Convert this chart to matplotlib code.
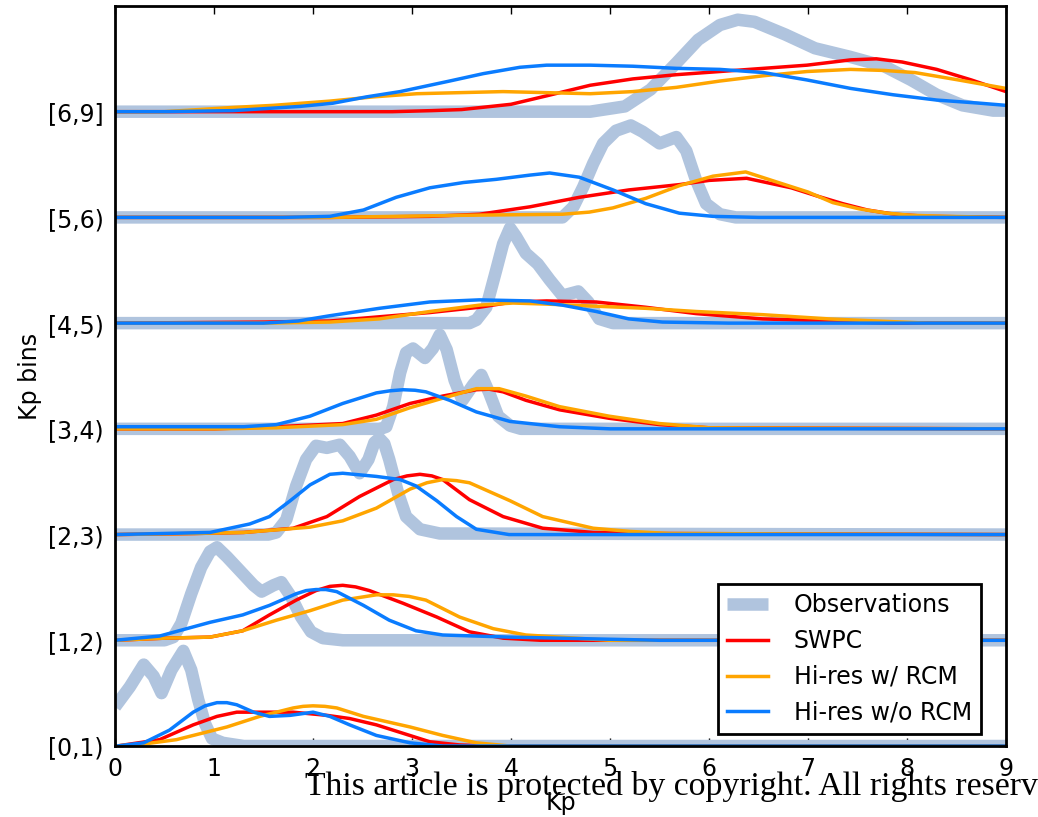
import numpy as np
import matplotlib
matplotlib.use('Agg')
from matplotlib import pyplot as plt

bin_labels = ['[0,1)', '[1,2)', '[2,3)', '[3,4)', '[4,5)', '[5,6)', '[6,9]']

# density curves, one list per Kp bin (x = Kp, h = height above the bin baseline)
obs_x = [
    [0, 0.15, 0.29, 0.39, 0.47, 0.57, 0.69, 0.77, 0.84, 0.91, 0.98, 1.09, 1.3, 9],
    [0, 0.5, 0.59, 0.67, 0.77, 0.87, 0.96, 1.03, 1.13, 1.26, 1.4, 1.48, 1.6, 1.68, 1.78, 1.88, 1.98, 2.1, 2.3, 9],
    [0, 1.55, 1.63, 1.73, 1.83, 1.93, 2.03, 2.14, 2.27, 2.37, 2.47, 2.56, 2.62, 2.67, 2.72, 2.77, 2.86, 2.94, 3.08,
     3.28, 9],
    [0, 2.68, 2.74, 2.81, 2.88, 2.94, 3.01, 3.13, 3.21, 3.28, 3.35, 3.43, 3.51, 3.62, 3.7, 3.78, 3.87, 3.99, 4.1, 9],
    [0, 3.58, 3.65, 3.75, 3.85, 3.92, 3.99, 4.05, 4.15, 4.27, 4.39, 4.52, 4.68, 4.78, 4.89, 5.03, 9],
    [0, 4.52, 4.63, 4.73, 4.83, 4.93, 5.06, 5.21, 5.33, 5.5, 5.67, 5.77, 5.87, 5.97, 6.11, 6.27, 9],
    [0, 4.8, 5.15, 5.41, 5.67, 5.89, 6.11, 6.29, 6.46, 6.77, 7.07, 7.42, 7.77, 8.04, 8.3, 8.56, 8.87, 9],
]
obs_h = [
    [0.37, 0.56, 0.77, 0.66, 0.5, 0.72, 0.9, 0.72, 0.44, 0.21, 0.07, 0.03, 0, 0],
    [0, 0, 0.03, 0.16, 0.44, 0.69, 0.84, 0.88, 0.79, 0.66, 0.52, 0.46, 0.52, 0.55, 0.41, 0.22, 0.08, 0.02, 0, 0],
    [0, 0, 0.02, 0.14, 0.46, 0.71, 0.84, 0.82, 0.85, 0.74, 0.58, 0.71, 0.87, 0.91, 0.86, 0.71, 0.39, 0.17, 0.05,
     0.01, 0],
    [0, 0, 0.02, 0.21, 0.53, 0.72, 0.76, 0.67, 0.76, 0.89, 0.75, 0.46, 0.27, 0.42, 0.51, 0.34, 0.12, 0.03, 0, 0],
    [0, 0, 0.03, 0.15, 0.5, 0.75, 0.9, 0.82, 0.66, 0.56, 0.41, 0.26, 0.3, 0.2, 0.04, 0, 0],
    [0, 0, 0.1, 0.29, 0.51, 0.7, 0.82, 0.87, 0.81, 0.7, 0.76, 0.63, 0.35, 0.13, 0.03, 0, 0],
    [0, 0, 0.05, 0.21, 0.46, 0.68, 0.82, 0.87, 0.85, 0.73, 0.6, 0.52, 0.43, 0.3, 0.16, 0.06, 0.01, 0.01],
]

swpc_x = [
    [0, 0.02, 0.45, 0.79, 1.03, 1.23, 1.46, 1.8, 2.14, 2.37, 2.64, 2.91, 3.18, 3.48, 3.8, 9],
    [0, 0.5, 0.96, 1.29, 1.56, 1.83, 2.03, 2.17, 2.3, 2.43, 2.57, 2.91, 3.25, 3.58, 3.92, 4.3, 9],
    [0, 0.8, 1.3, 1.8, 2.14, 2.47, 2.81, 2.95, 3.08, 3.2, 3.31, 3.58, 3.92, 4.32, 4.83, 5.5, 9],
    [0, 1.0, 1.63, 2.3, 2.64, 2.98, 3.31, 3.65, 3.78, 3.92, 4.15, 4.49, 4.99, 5.5, 6.0, 9],
    [0, 1.5, 2.17, 2.67, 3.18, 3.68, 4.02, 4.36, 4.86, 5.36, 5.87, 6.54, 7.21, 7.8, 9],
    [0, 2.17, 3.18, 3.68, 4.19, 4.69, 5.19, 5.7, 6.0, 6.38, 6.83, 7.1, 7.35, 7.6, 7.87, 8.2, 9],
    [0, 2.8, 3.2, 3.5, 4.0, 4.36, 4.8, 5.23, 5.67, 6.11, 6.55, 6.99, 7.43, 7.69, 7.95, 8.3, 8.65, 9.0],
]
swpc_h = [
    [0, 0, 0.06, 0.2, 0.28, 0.32, 0.32, 0.32, 0.29, 0.26, 0.2, 0.12, 0.04, 0.01, 0, 0],
    [0, 0.02, 0.03, 0.09, 0.24, 0.38, 0.47, 0.51, 0.52, 0.505, 0.47, 0.35, 0.22, 0.08, 0.02, 0, 0],
    [0, 0.01, 0.02, 0.06, 0.17, 0.36, 0.52, 0.555, 0.57, 0.555, 0.52, 0.33, 0.17, 0.06, 0.02, 0.01, 0],
    [0, 0, 0.02, 0.05, 0.13, 0.24, 0.31, 0.37, 0.375, 0.35, 0.27, 0.18, 0.1, 0.04, 0.01, 0],
    [0, 0.01, 0.02, 0.06, 0.1, 0.15, 0.2, 0.21, 0.2, 0.15, 0.09, 0.04, 0.02, 0, 0],
    [0, 0, 0.01, 0.03, 0.1, 0.19, 0.26, 0.31, 0.35, 0.37, 0.28, 0.2, 0.13, 0.07, 0.03, 0.01, 0],
    [0, 0, 0.01, 0.02, 0.07, 0.15, 0.25, 0.31, 0.35, 0.38, 0.41, 0.44, 0.49, 0.5, 0.47, 0.4, 0.3, 0.19],
]

rcm_x = [
    [0, 0.3, 0.62, 1.13, 1.46, 1.8, 1.9, 2.0, 2.12, 2.24, 2.51, 2.98, 3.31, 3.65, 3.99, 9],
    [0, 0.5, 0.96, 1.29, 1.63, 1.97, 2.3, 2.64, 2.81, 2.97, 3.14, 3.48, 3.82, 4.15, 4.66, 4.99, 9],
    [0, 0.8, 1.3, 1.97, 2.3, 2.64, 2.98, 3.15, 3.31, 3.45, 3.58, 3.99, 4.32, 4.83, 5.2, 5.6, 9],
    [0, 1.0, 1.63, 2.3, 2.64, 2.98, 3.31, 3.65, 3.88, 4.15, 4.49, 4.99, 5.5, 6.0, 9],
    [0, 1.5, 2.17, 2.67, 3.18, 3.68, 4.02, 4.36, 4.86, 5.36, 5.87, 6.54, 7.21, 7.7, 8.2, 9],
    [0, 2.17, 3.52, 4.52, 4.79, 5.03, 5.36, 5.7, 6.04, 6.37, 6.7, 7.0, 7.25, 7.52, 7.8, 8.04, 8.4, 9],
    [0, 0.5, 1.19, 1.6, 2.17, 2.61, 3.05, 3.48, 3.92, 4.36, 4.8, 5.23, 5.67, 6.11, 6.55, 6.99, 7.43, 7.77, 8.08,
     8.52, 9.0],
]
rcm_h = [
    [0, 0.02, 0.06, 0.18, 0.28, 0.36, 0.375, 0.38, 0.375, 0.36, 0.28, 0.18, 0.1, 0.03, 0, 0],
    [0, 0.02, 0.03, 0.09, 0.19, 0.28, 0.38, 0.43, 0.43, 0.415, 0.38, 0.22, 0.11, 0.05, 0.02, 0, 0],
    [0, 0.01, 0.02, 0.07, 0.13, 0.25, 0.43, 0.49, 0.52, 0.51, 0.49, 0.32, 0.17, 0.06, 0.03, 0.01, 0],
    [0, 0, 0.01, 0.04, 0.09, 0.2, 0.29, 0.38, 0.38, 0.31, 0.21, 0.12, 0.05, 0.01, 0],
    [0, 0, 0.01, 0.04, 0.11, 0.17, 0.19, 0.18, 0.16, 0.14, 0.11, 0.08, 0.04, 0.02, 0, 0],
    [0, 0, 0.02, 0.03, 0.05, 0.09, 0.18, 0.3, 0.39, 0.43, 0.33, 0.24, 0.14, 0.08, 0.04, 0.02, 0.01, 0],
    [0, 0, 0.04, 0.06, 0.1, 0.14, 0.17, 0.18, 0.19, 0.18, 0.17, 0.19, 0.23, 0.29, 0.34, 0.38, 0.4, 0.39, 0.37,
     0.3, 0.22],
]

norcm_x = [
    [0, 0.02, 0.29, 0.55, 0.79, 0.91, 1.03, 1.13, 1.23, 1.4, 1.56, 1.77, 2.0, 2.17, 2.37, 2.64, 2.98, 3.31, 9],
    [0, 0.45, 0.96, 1.29, 1.56, 1.83, 1.93, 2.03, 2.13, 2.24, 2.51, 2.77, 3.04, 3.31, 3.99, 4.99, 5.5, 9],
    [0, 0.96, 1.36, 1.56, 1.77, 1.97, 2.17, 2.3, 2.64, 2.88, 3.04, 3.25, 3.45, 3.65, 3.98, 9],
    [0, 0.62, 1.3, 1.63, 1.97, 2.3, 2.64, 2.78, 2.91, 3.03, 3.14, 3.38, 3.65, 3.99, 4.49, 5.0, 9],
    [0, 1.5, 1.85, 2.17, 2.67, 3.18, 3.68, 4.19, 4.52, 4.86, 5.19, 5.53, 6.2, 9],
    [0, 1.7, 2.17, 2.51, 2.84, 3.18, 3.52, 3.85, 4.19, 4.39, 4.69, 5.03, 5.36, 5.7, 6.04, 6.5, 9],
    [0, 0.5, 1.19, 1.87, 2.2, 2.54, 2.88, 3.38, 3.72, 4.09, 4.36, 4.8, 5.23, 5.67, 6.11, 6.55, 6.99, 7.43, 7.86,
     8.3, 8.74, 9.0],
]
norcm_h = [
    [0, 0, 0.03, 0.15, 0.32, 0.38, 0.41, 0.41, 0.39, 0.32, 0.28, 0.29, 0.32, 0.28, 0.2, 0.1, 0.03, 0, 0],
    [0, 0.04, 0.17, 0.24, 0.33, 0.44, 0.47, 0.48, 0.48, 0.46, 0.33, 0.19, 0.09, 0.05, 0.03, 0.01, 0, 0],
    [0, 0.02, 0.1, 0.17, 0.32, 0.47, 0.57, 0.58, 0.55, 0.52, 0.46, 0.32, 0.17, 0.05, 0, 0],
    [0.02, 0.02, 0.02, 0.04, 0.12, 0.24, 0.34, 0.36, 0.37, 0.365, 0.35, 0.27, 0.16, 0.07, 0.02, 0, 0],
    [0, 0, 0.02, 0.07, 0.14, 0.2, 0.22, 0.21, 0.17, 0.11, 0.04, 0.01, 0, 0],
    [0, 0, 0.01, 0.07, 0.19, 0.28, 0.33, 0.36, 0.4, 0.42, 0.38, 0.26, 0.13, 0.04, 0.01, 0, 0],
    [0, 0, 0.01, 0.05, 0.08, 0.14, 0.19, 0.29, 0.36, 0.42, 0.44, 0.44, 0.43, 0.41, 0.4, 0.37, 0.3, 0.22, 0.16,
     0.11, 0.08, 0.06],
]

fig = plt.figure(figsize=(10.38, 8.17), dpi=100)
ax = fig.add_axes([0.1108, 0.0869, 0.8584, 0.9058])

for i in range(len(bin_labels)):
    ax.plot(obs_x[i], np.array(obs_h[i]) + i, color='#b0c4de', lw=9,
            solid_capstyle='butt', solid_joinstyle='round',
            label='Observations' if i == 0 else None)

models = [
    (swpc_x, swpc_h, 'red', 'SWPC'),
    (rcm_x, rcm_h, 'orange', 'Hi-res w/ RCM'),
    (norcm_x, norcm_h, '#0a7cff', 'Hi-res w/o RCM'),
]
for i in range(len(bin_labels)):
    for xs, hs, col, name in models:
        ax.plot(xs[i], np.array(hs[i]) + i, color=col, lw=2.5,
                solid_joinstyle='round', label=name if i == 0 else None)

ax.set_xlim(0, 9)
ax.set_ylim(0, 7)
ax.set_xticks(range(10))
ax.set_yticks(range(len(bin_labels)))
ax.set_yticklabels(bin_labels)
ax.tick_params(direction='in', top=True, right=True, length=6, width=1,
               labelsize=17, pad=8)
for sp in ax.spines.values():
    sp.set_linewidth(2)

ax.set_xlabel('Kp', fontsize=17, labelpad=7)
ax.set_ylabel('Kp bins', fontsize=17)

leg = ax.legend(loc='lower right', bbox_to_anchor=(0.972, 0.016), borderaxespad=0,
                fontsize=17, fancybox=False, edgecolor='black', framealpha=1,
                handlelength=1.7, handletextpad=1.1)
leg.get_frame().set_linewidth(2)

fig.text(305 / 1038, 1 - 795 / 817,
         'This article is protected by copyright. All rights reserved.',
         fontsize=24.3, family='Liberation Serif', ha='left', va='baseline')

fig.savefig('out.png', dpi=100)
